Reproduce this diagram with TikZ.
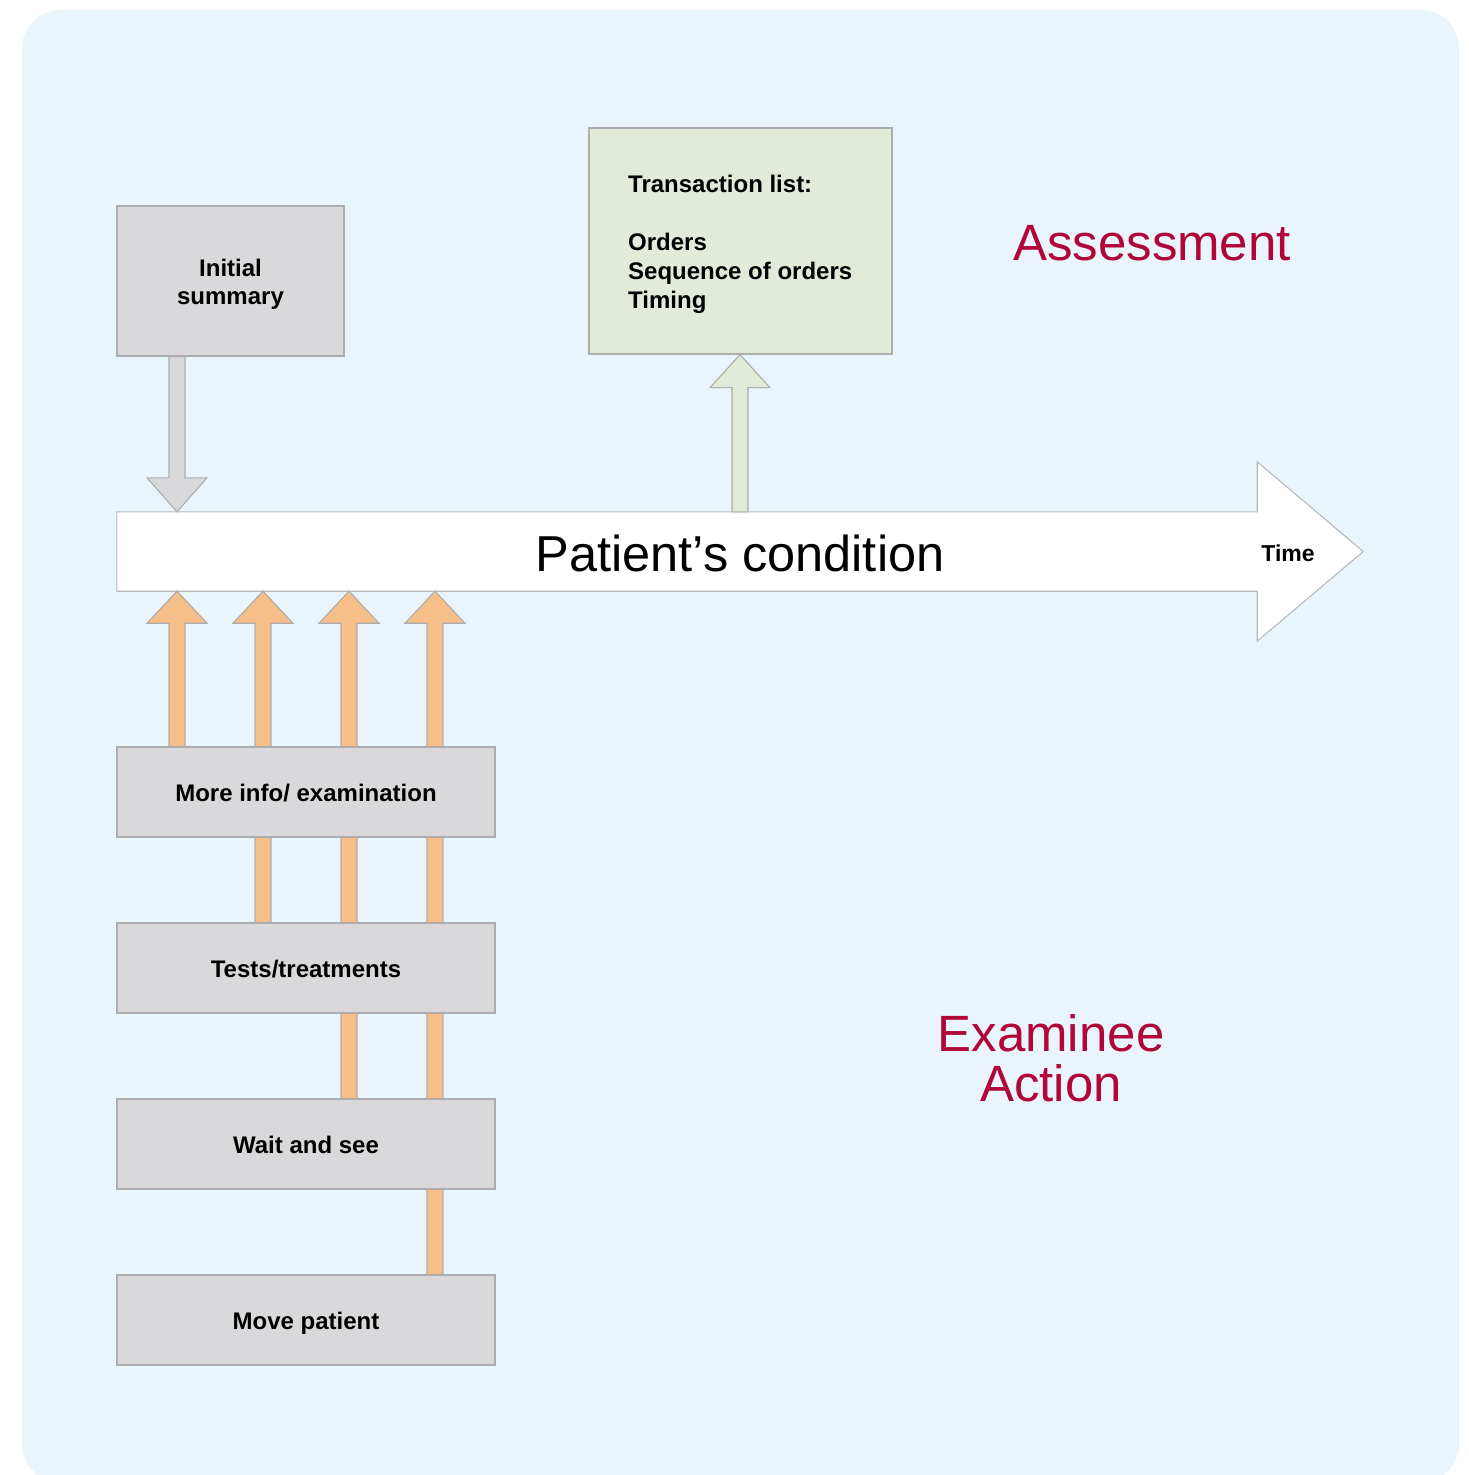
\documentclass[tikz,border=0pt]{standalone}
\usepackage{fontspec}
\setmainfont{Liberation Sans}
\usetikzlibrary{calc}
\definecolor{bgblue}{HTML}{EAF4FB}
\definecolor{boxgray}{HTML}{D9D9DB}
\definecolor{boxline}{HTML}{ADADAD}
\definecolor{lightgreen}{HTML}{E2EBD7}
\definecolor{orangef}{HTML}{F6BE88}
\definecolor{redtxt}{HTML}{B0063A}
\pgfdeclarelayer{bglayer}
\pgfdeclarelayer{arrlayer}
\pgfsetlayers{bglayer,arrlayer,main}
\newcommand\BlkArr[4]{% style, from, to, head length (signed)
  \draw[#1] ($(#2)+(-8,0)$) -- ($(#3)+(-8,#4)$) -- ($(#3)+(-30,#4)$) -- (#3)
    -- ($(#3)+(30,#4)$) -- ($(#3)+(8,#4)$) -- ($(#2)+(8,0)$) -- cycle;}
\tikzset{
  actbox/.style={draw=boxline, fill=boxgray, line width=1.3pt, minimum width=378pt,
    minimum height=90pt, inner sep=0pt, font=\bfseries\fontsize{24}{28}\selectfont, align=center,
    text height=24pt, text depth=5pt},
  orangearr/.style={fill=orangef, draw=boxline, line width=1.1pt},
  grayarr/.style={fill=boxgray, draw=boxline, line width=1.1pt},
  greenarr/.style={fill=lightgreen, draw=boxline, line width=1.1pt},
  bigred/.style={text=redtxt, font=\fontsize{51}{50}\selectfont, align=center, inner sep=0pt},
}
\begin{document}
\begin{tikzpicture}[x=1pt,y=-1pt]
\useasboundingbox (0,0) rectangle (1468,1475);
\begin{pgfonlayer}{bglayer}
  \clip (0,0) rectangle (1468,1475);
  \fill[bgblue, rounded corners=38pt] (22,10) rectangle (1459,1482);
\end{pgfonlayer}

% nodes
\node[actbox, minimum width=227pt, minimum height=150pt, text height=52.2pt, text depth=5pt] (is) at (230.5,281) {Initial\\summary};
\node[draw=boxline, fill=lightgreen, line width=1.3pt, minimum width=303pt, minimum height=226pt, inner sep=0pt] (tx) at (740.5,241) {};
\node[anchor=north west, inner sep=0pt, align=left, font=\bfseries\fontsize{24}{29}\selectfont] (txt) at (628,175)
  {Transaction list:\\\mbox{}\\Orders\\Sequence of orders\\Timing};
\node[minimum width=1140pt, minimum height=79pt, inner sep=0pt] (pc) at (687,551.5) {};
\node[actbox] (mi) at (306,792) {More info/ examination};
\node[actbox] (tt) at (306,968) {Tests/treatments};
\node[actbox] (ws) at (306,1144) {Wait and see};
\node[actbox] (mp) at (306,1320) {Move patient};

\coordinate (c0) at (177,0);
\coordinate (c1) at (177,0);
\coordinate (c2) at (263,0);
\coordinate (c3) at (349,0);
\coordinate (c4) at (435,0);
\coordinate (c5) at (740,0);

\begin{pgfonlayer}{arrlayer}
  % main arrow
  \draw[fill=white, draw=boxline!85, line width=1.1pt] (pc.north west) -- (pc.north east)
    -- ($(pc.north east)+(0,-50)$) -- ($(pc.east)+(106,0)$) -- ($(pc.south east)+(0,50)$)
    -- (pc.south east) -- (pc.south west) -- cycle;
  % initial summary arrow
  \coordinate (d0s) at (is.south -| c0);
  \coordinate (d0t) at (pc.north -| c0);
  \BlkArr{grayarr}{d0s}{d0t}{-34}
  % transaction arrow
  \coordinate (g0s) at (pc.north -| c5);
  \coordinate (g0t) at (tx.south -| c5);
  \BlkArr{greenarr}{g0s}{g0t}{33}
  % action arrows
  \coordinate (a1s) at (mi.north -| c1);
  \coordinate (a1t) at (pc.south -| c1);
  \coordinate (a2s) at (tt.north -| c2);
  \coordinate (a2t) at (pc.south -| c2);
  \coordinate (a3s) at (ws.north -| c3);
  \coordinate (a3t) at (pc.south -| c3);
  \coordinate (a4s) at (mp.north -| c4);
  \coordinate (a4t) at (pc.south -| c4);
  \BlkArr{orangearr}{a1s}{a1t}{32}
  \BlkArr{orangearr}{a2s}{a2t}{32}
  \BlkArr{orangearr}{a3s}{a3t}{32}
  \BlkArr{orangearr}{a4s}{a4t}{32}
\end{pgfonlayer}

\node[font=\fontsize{50.5}{52}\selectfont, inner sep=0pt] (pct) at (740,553) {Patient’s condition};
\node[font=\bfseries\fontsize{23}{26}\selectfont, inner sep=0pt] (time) at (1288,553) {Time};
\node[bigred] (as) at (1152,243) {Assessment};
\node[bigred] (ea) at (1051,1058) {Examinee\\Action};
\end{tikzpicture}
\end{document}
